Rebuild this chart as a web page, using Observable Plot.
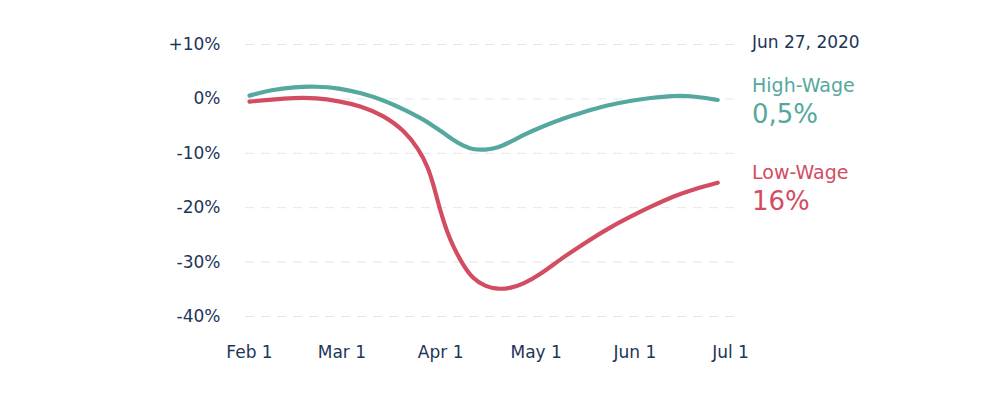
<!DOCTYPE html>
<html>
<head>
<meta charset="utf-8">
<script src="https://cdn.jsdelivr.net/npm/d3@7"></script>
<script src="https://cdn.jsdelivr.net/npm/@observablehq/plot@0.6"></script>
<style>
  html, body { margin: 0; padding: 0; background: #fff; }
  #wrap { position: relative; width: 1000px; height: 394px; font-family: "DejaVu Sans", Verdana, sans-serif; }
  .lab { position: absolute; left: 752px; line-height: 1; white-space: nowrap; }
</style>
</head>
<body>
<div id="wrap"></div>
<script>
const dates = ["2020-02-01","2020-02-08","2020-02-15","2020-02-22","2020-02-29","2020-03-07","2020-03-14","2020-03-21","2020-03-25","2020-03-28","2020-03-30","2020-04-01","2020-04-03","2020-04-05","2020-04-08","2020-04-11","2020-04-15","2020-04-19","2020-04-23","2020-04-27","2020-05-02","2020-05-09","2020-05-16","2020-05-23","2020-05-30","2020-06-06","2020-06-13","2020-06-20","2020-06-27"];
const highWage = [0.6,1.7,2.2,2.3,2.0,1.1,-0.2,-2.1,-3.3,-4.3,-5.1,-5.9,-6.7,-7.6,-8.6,-9.3,-9.4,-9.0,-7.9,-6.6,-5.3,-3.7,-2.4,-1.2,-0.4,0.2,0.6,0.5,-0.2];
const lowWage = [-0.5,-0.1,0.2,0.2,-0.4,-1.3,-3.0,-6.0,-9.2,-12.4,-16.3,-20.8,-24.4,-27.2,-30.5,-33.0,-34.5,-35.0,-34.8,-34.0,-32.4,-29.3,-26.6,-24.0,-21.8,-19.8,-17.9,-16.5,-15.4];
const seriesNames = ["High-Wage", "Low-Wage"];
const seriesColors = ["#55a89d", "#d24d62"];
const yTicks = [10, 0, -10, -20, -30, -40];
const xTicks = ["2020-02-01","2020-03-01","2020-04-01","2020-05-01","2020-06-01","2020-07-01"];
const dateLabel = "Jun 27, 2020";
const endLabels = ["0,5%", "16%"];

const parse = d3.utcParse("%Y-%m-%d");
const rows = [];
dates.forEach((d, i) => {
  rows.push({date: parse(d), value: highWage[i], series: seriesNames[0]});
  rows.push({date: parse(d), value: lowWage[i], series: seriesNames[1]});
});
const navy = "#1d3557";

const chart = Plot.plot({
  width: 1000,
  height: 394,
  marginLeft: 249,
  marginRight: 270,
  marginTop: 44,
  marginBottom: 78,
  style: {fontFamily: "DejaVu Sans, Verdana, sans-serif", fontSize: "17px", color: navy, background: "#fff"},
  x: {type: "utc", domain: [parse(xTicks[0]), parse(xTicks[xTicks.length - 1])]},
  y: {domain: [-40, 10]},
  color: {domain: seriesNames, range: seriesColors},
  marks: [
    Plot.ruleY(yTicks, {stroke: "#e6e6e6", strokeWidth: 1, strokeDasharray: "9,7", insetLeft: -4, insetRight: -5}),
    Plot.axisY({ticks: yTicks, tickSize: 0, tickPadding: 29, label: null,
      tickFormat: d => d > 0 ? `+${d}%` : `${d}%`, fill: navy}),
    Plot.axisX({ticks: xTicks.map(parse), tickSize: 0, tickPadding: 29, label: null,
      tickFormat: d3.utcFormat("%b %-d"), fill: navy}),
    Plot.line(rows, {x: "date", y: "value", stroke: "series", z: "series", strokeWidth: 4.2, curve: "basis", strokeLinecap: "round"})
  ]
});
const wrap = document.getElementById("wrap");
wrap.appendChild(chart);

function addLabel(text, top, size, color) {
  const el = document.createElement("div");
  el.className = "lab";
  el.textContent = text;
  el.style.top = top + "px";
  el.style.fontSize = size + "px";
  el.style.color = color;
  wrap.appendChild(el);
}
addLabel(dateLabel, 34, 17, navy);
addLabel(seriesNames[0], 76, 19, seriesColors[0]);
addLabel(endLabels[0], 101, 26, seriesColors[0]);
addLabel(seriesNames[1], 163, 19, seriesColors[1]);
addLabel(endLabels[1], 188, 26, seriesColors[1]);
</script>
</body>
</html>
